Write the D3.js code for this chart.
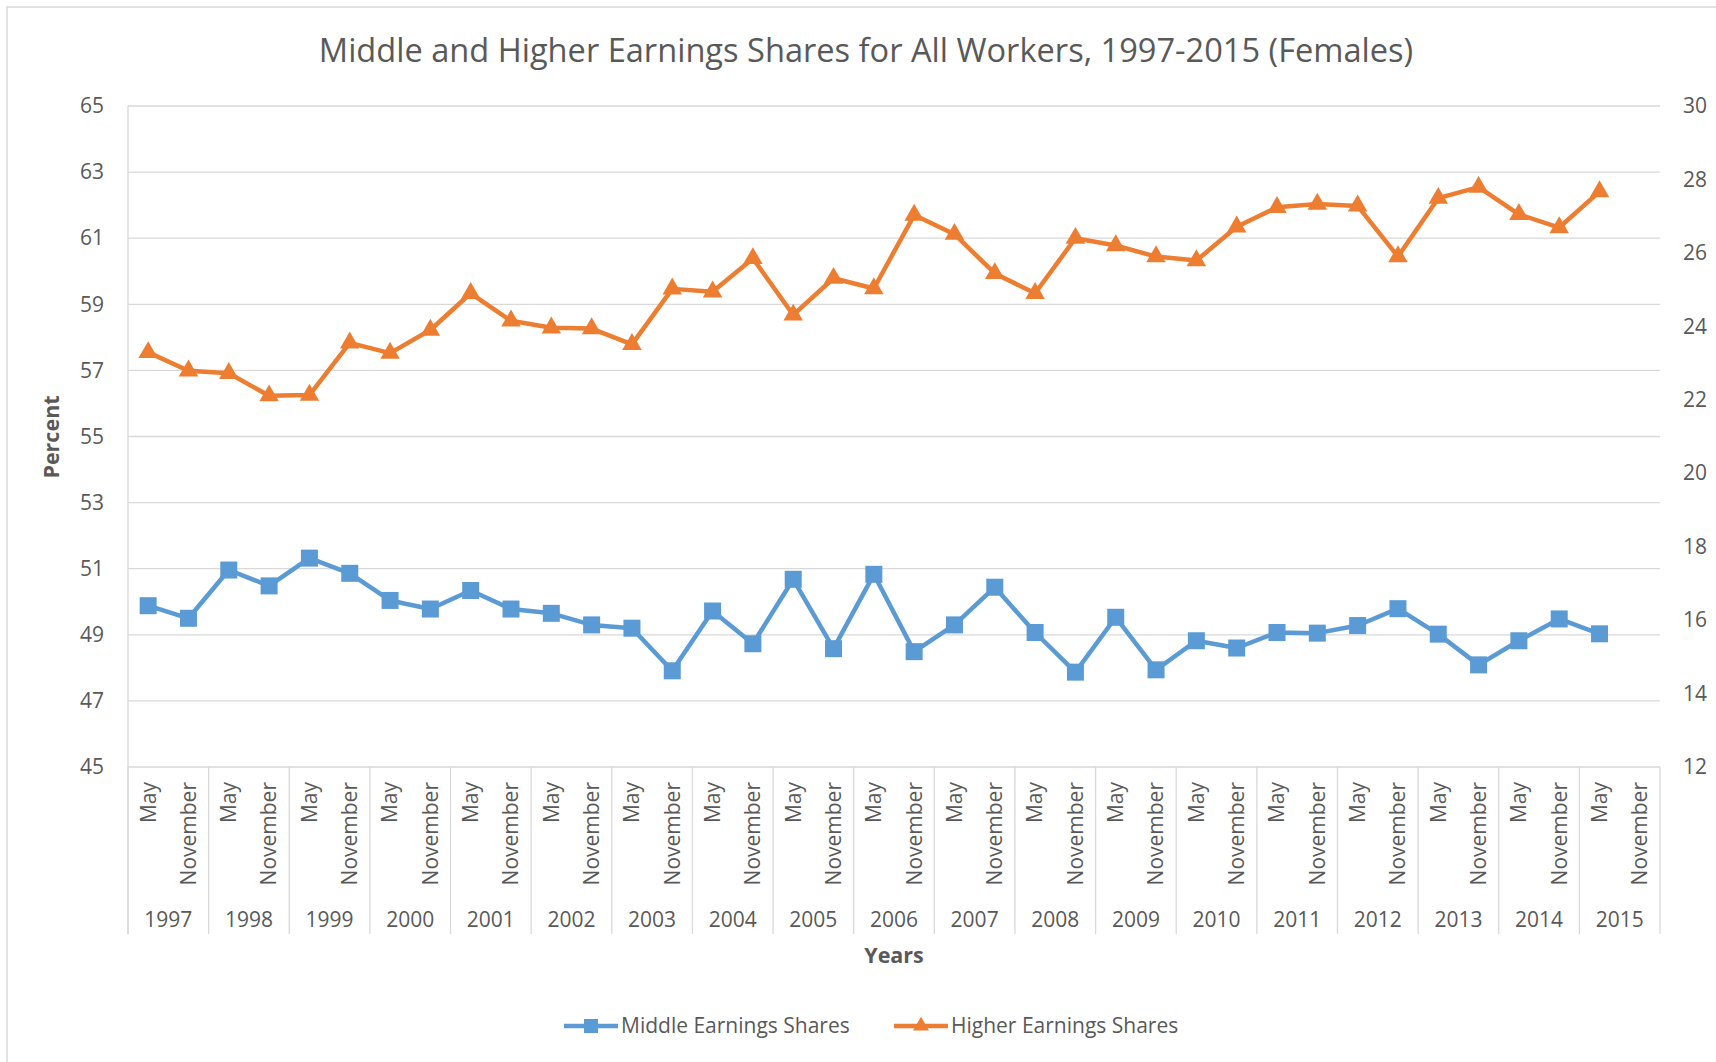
<!DOCTYPE html>
<html>
<head>
<meta charset="utf-8">
<script src="https://cdn.jsdelivr.net/npm/d3@7"></script>
<style>
  body { margin: 0; background: #fff; }
  text { font-family: "Open Sans", sans-serif; fill: #595959; }
</style>
</head>
<body>
<div id="chart"></div>
<script>
// data
const years = d3.range(1997, 2016).map(String);
const months = ['May', 'November'];
const middleShares = [49.88, 49.50, 50.96, 50.48, 51.32, 50.86, 50.04, 49.78, 50.34, 49.78,
  49.65, 49.30, 49.20, 47.91, 49.72, 48.73, 50.68, 48.58, 50.83, 48.49,
  49.30, 50.44, 49.07, 47.87, 49.53, 47.94, 48.82, 48.60, 49.07, 49.05,
  49.28, 49.79, 49.02, 48.09, 48.82, 49.48, 49.03];
const higherShares = [23.29, 22.79, 22.72, 22.11, 22.13, 23.55, 23.27, 23.90, 24.90, 24.15,
  23.96, 23.94, 23.51, 25.02, 24.94, 25.85, 24.31, 25.31, 25.03, 27.03,
  26.51, 25.44, 24.90, 26.40, 26.20, 25.90, 25.79, 26.71, 27.24, 27.33,
  27.28, 25.90, 27.49, 27.79, 27.05, 26.69, 27.67];
const leftTicks = d3.range(45, 66, 2);
const rightTicks = d3.range(12, 31, 2);

const W = 1716, H = 1062;
const margin = {top: 106, right: 56, bottom: 295, left: 128};
const width = W - margin.left - margin.right;
const height = H - margin.top - margin.bottom;

const cats = [];
years.forEach(y => months.forEach(m => cats.push({key: y + '-' + m, year: y, month: m})));

const svg = d3.select('#chart').append('svg').attr('width', W).attr('height', H);
svg.append('rect').attr('x', 7).attr('y', 7).attr('width', W).attr('height', H)
  .attr('fill', 'none').attr('stroke', '#d9d9d9').attr('stroke-width', 1.5);

svg.append('text').attr('x', 866).attr('y', 62).attr('text-anchor', 'middle')
  .attr('font-size', '32.6px').text('Middle and Higher Earnings Shares for All Workers, 1997-2015 (Females)');

const g = svg.append('g').attr('transform', `translate(${margin.left},${margin.top})`);
const x = d3.scaleBand().domain(cats.map(d => d.key)).range([0, width]);
const yL = d3.scaleLinear().domain([45, 65]).range([height, 0]);
const yR = d3.scaleLinear().domain([12, 30]).range([height, 0]);

// gridlines
g.selectAll('.grid').data(leftTicks).enter().append('line')
  .attr('x1', 0).attr('x2', width).attr('y1', d => yL(d)).attr('y2', d => yL(d))
  .attr('stroke', '#d9d9d9').attr('stroke-width', 1.3);

// left axis
const axL = g.append('g').call(d3.axisLeft(yL).tickValues(leftTicks).tickSize(0).tickPadding(24));
axL.select('.domain').remove();
axL.selectAll('text').attr('font-size', '21px').attr('font-family', 'Open Sans').attr('fill', '#595959');

// right axis
const axR = g.append('g').attr('transform', `translate(${width},0)`)
  .call(d3.axisRight(yR).tickValues(rightTicks).tickSize(0).tickPadding(23));
axR.select('.domain').remove();
axR.selectAll('text').attr('font-size', '21px').attr('font-family', 'Open Sans').attr('fill', '#595959');

// category axis: vertical line + year dividers
g.append('line').attr('x1', 0).attr('x2', 0).attr('y1', 0).attr('y2', height + 167)
  .attr('stroke', '#d9d9d9').attr('stroke-width', 1.3);
const divs = years.map(y => x(y + '-May')).concat([width]);
g.selectAll('.div').data(divs).enter().append('line')
  .attr('x1', d => d).attr('x2', d => d).attr('y1', height).attr('y2', height + 167)
  .attr('stroke', '#d9d9d9').attr('stroke-width', 1.3);

g.selectAll('.month').data(cats).enter().append('text')
  .attr('transform', d => `translate(${x(d.key) + x.bandwidth() / 2},${height + 15}) rotate(-90)`)
  .attr('dy', '0.35em').attr('text-anchor', 'end').attr('font-size', '21px')
  .text(d => d.month);

g.selectAll('.year').data(years).enter().append('text')
  .attr('x', d => x(d + '-May') + x.bandwidth())
  .attr('y', height + 160).attr('text-anchor', 'middle').attr('font-size', '21px')
  .text(d => d);

// axis titles
svg.append('text').attr('transform', 'translate(59,437) rotate(-90)').attr('text-anchor', 'middle')
  .attr('font-size', '21.5px').attr('font-weight', 'bold').text('Percent');
svg.append('text').attr('x', 894).attr('y', 963).attr('text-anchor', 'middle')
  .attr('font-size', '21.5px').attr('font-weight', 'bold').text('Years');

// series
const blue = '#5b9bd5', orange = '#ed7d31';
const midData = middleShares.map((v, i) => ({key: cats[i].key, v}));
const highData = higherShares.map((v, i) => ({key: cats[i].key, v}));
const cx = d => x(d.key) + x.bandwidth() / 2;

g.append('path').datum(midData).attr('fill', 'none').attr('stroke', blue).attr('stroke-width', 4.5)
  .attr('stroke-linejoin', 'round')
  .attr('d', d3.line().x(cx).y(d => yL(d.v)));
g.selectAll('.sq').data(midData).enter().append('rect')
  .attr('x', d => cx(d) - 8.5).attr('y', d => yL(d.v) - 8.5)
  .attr('width', 17).attr('height', 17).attr('fill', blue);

g.append('path').datum(highData).attr('fill', 'none').attr('stroke', orange).attr('stroke-width', 4.5)
  .attr('stroke-linejoin', 'round')
  .attr('d', d3.line().x(cx).y(d => yR(d.v)));
const tri = d3.symbol().type(d3.symbolTriangle).size(165);
g.selectAll('.tri').data(highData).enter().append('path')
  .attr('transform', d => `translate(${cx(d)},${yR(d.v)})`)
  .attr('d', tri).attr('fill', orange);

// legend
const legend = [
  {name: 'Middle Earnings Shares', color: blue, x: 564, shape: 'sq'},
  {name: 'Higher Earnings Shares', color: orange, x: 894, shape: 'tri'}
];
const lg = svg.selectAll('.lg').data(legend).enter().append('g')
  .attr('transform', d => `translate(${d.x},1026)`);
lg.append('line').attr('x1', 0).attr('x2', 54).attr('stroke', d => d.color).attr('stroke-width', 4.5);
lg.filter(d => d.shape === 'sq').append('rect').attr('x', 20).attr('y', -7).attr('width', 14).attr('height', 14)
  .attr('fill', d => d.color);
lg.filter(d => d.shape === 'tri').append('path').attr('transform', 'translate(27,0)')
  .attr('d', d3.symbol().type(d3.symbolTriangle).size(110)).attr('fill', d => d.color);
lg.append('text').attr('x', 57).attr('dy', '0.35em').attr('font-size', '21px').text(d => d.name);
</script>
</body>
</html>
